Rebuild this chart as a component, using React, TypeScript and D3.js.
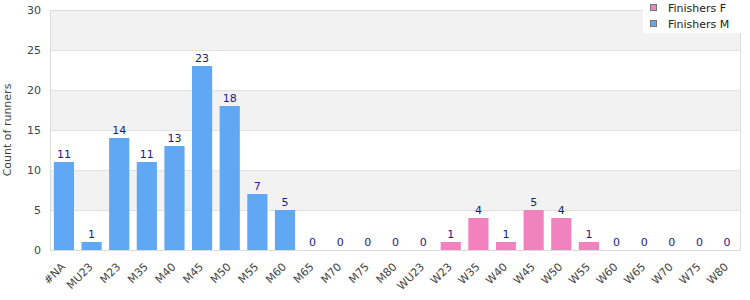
import React, { useEffect, useRef } from 'react';
import * as d3 from 'd3';

const categories = ['#NA', 'MU23', 'M23', 'M35', 'M40', 'M45', 'M50', 'M55', 'M60', 'M65', 'M70', 'M75', 'M80',
  'WU23', 'W23', 'W35', 'W40', 'W45', 'W50', 'W55', 'W60', 'W65', 'W70', 'W75', 'W80'];
const finishersM = [11, 1, 14, 11, 13, 23, 18, 7, 5, 0, 0, 0, 0, 0, null, null, null, null, null, null, null, null, null, null, null];
const finishersF = [null, null, null, null, null, null, null, null, null, null, null, null, null, null, 1, 4, 1, 5, 4, 1, 0, 0, 0, 0, 0];
const yTicks = [0, 5, 10, 15, 20, 25, 30];

const margin = { top: 10, right: 9, bottom: 50, left: 50 };
const W = 750, H = 300;
const width = W - margin.left - margin.right;
const height = H - margin.top - margin.bottom;
const font = 'DejaVu Sans, Verdana, sans-serif';

export default function App() {
  const ref = useRef<SVGSVGElement>(null);

  useEffect(() => {
    const svg = d3.select(ref.current);
    svg.selectAll('*').remove();

    const x = d3.scaleBand().domain(categories).range([0, width]).paddingInner(0.27).paddingOuter(0.14);
    const y = d3.scaleLinear().domain([0, 30]).range([height, 0]);

    const g = svg.append('g').attr('transform', `translate(${margin.left},${margin.top})`);

    // alternating bands
    const bands = d3.pairs(yTicks).reverse();
    g.selectAll('rect.band')
      .data(bands)
      .enter()
      .append('rect')
      .attr('x', 0)
      .attr('width', width)
      .attr('y', d => y(d[1]))
      .attr('height', d => y(d[0]) - y(d[1]))
      .attr('fill', (d, i) => (i % 2 === 0 ? '#f2f2f2' : '#ffffff'));

    g.selectAll('line.grid')
      .data(yTicks)
      .enter()
      .append('line')
      .attr('x1', 0).attr('x2', width)
      .attr('y1', d => y(d) + 0.5).attr('y2', d => y(d) + 0.5)
      .attr('stroke', '#e2e2e2');

    // frame
    g.append('rect')
      .attr('x', 0.5).attr('y', 0.5)
      .attr('width', width - 1).attr('height', height)
      .attr('fill', 'none').attr('stroke', '#dcdcdc');

    const series = [
      { name: 'Finishers M', values: finishersM, color: '#60a8f4' },
      { name: 'Finishers F', values: finishersF, color: '#f282be' },
    ];

    series.forEach(s => {
      const pts = categories.map((c, i) => ({ c, v: s.values[i] })).filter(p => p.v !== null) as { c: string; v: number }[];
      g.append('g').selectAll('rect')
        .data(pts.filter(p => p.v > 0))
        .enter()
        .append('rect')
        .attr('x', p => x(p.c)!)
        .attr('width', x.bandwidth())
        .attr('y', p => y(p.v))
        .attr('height', p => height - y(p.v))
        .attr('fill', s.color);
      g.append('g').selectAll('text')
        .data(pts)
        .enter()
        .append('text')
        .attr('x', p => x(p.c)! + x.bandwidth() / 2)
        .attr('y', p => y(p.v) - 4)
        .attr('text-anchor', 'middle')
        .attr('font-family', font)
        .attr('font-size', 11)
        .attr('fill', '#1a1a8c')
        .text(p => String(p.v));
    });

    // y axis labels
    g.selectAll('text.ytick')
      .data(yTicks)
      .enter()
      .append('text')
      .attr('x', -9)
      .attr('y', d => y(d) + 4)
      .attr('text-anchor', 'end')
      .attr('font-family', font)
      .attr('font-size', 11)
      .attr('fill', '#444')
      .text(d => d);

    svg.append('text')
      .attr('transform', `translate(11,${margin.top + height / 2}) rotate(-90)`)
      .attr('text-anchor', 'middle')
      .attr('font-family', font)
      .attr('font-size', 11)
      .attr('fill', '#444')
      .text('Count of runners');

    // x labels
    g.selectAll('text.xtick')
      .data(categories)
      .enter()
      .append('text')
      .attr('transform', d => `translate(${x(d)! + x.bandwidth() / 2 - 3.5},${height + 12}) rotate(-45)`)
      .attr('text-anchor', 'end')
      .attr('dy', '0.7em')
      .attr('font-family', font)
      .attr('font-size', 11)
      .attr('fill', '#444')
      .text(d => d);

    // legend
    const lg = svg.append('g').attr('transform', 'translate(643,0)');
    lg.append('rect').attr('width', 98).attr('height', 33).attr('fill', '#fff');
    [series[1], series[0]].forEach((s, i) => {
      lg.append('rect')
        .attr('x', 7.5).attr('y', 4.5 + i * 16)
        .attr('width', 6).attr('height', 6)
        .attr('fill', s.color).attr('stroke', '#777');
      lg.append('text')
        .attr('x', 25).attr('y', 12 + i * 16)
        .attr('font-family', font)
        .attr('font-size', 11)
        .attr('fill', '#222')
        .text(s.name);
    });
  }, []);

  return (
    <svg ref={ref} width={W} height={H} style={{ position: 'absolute', left: 0, top: 0 }} />
  );
}
